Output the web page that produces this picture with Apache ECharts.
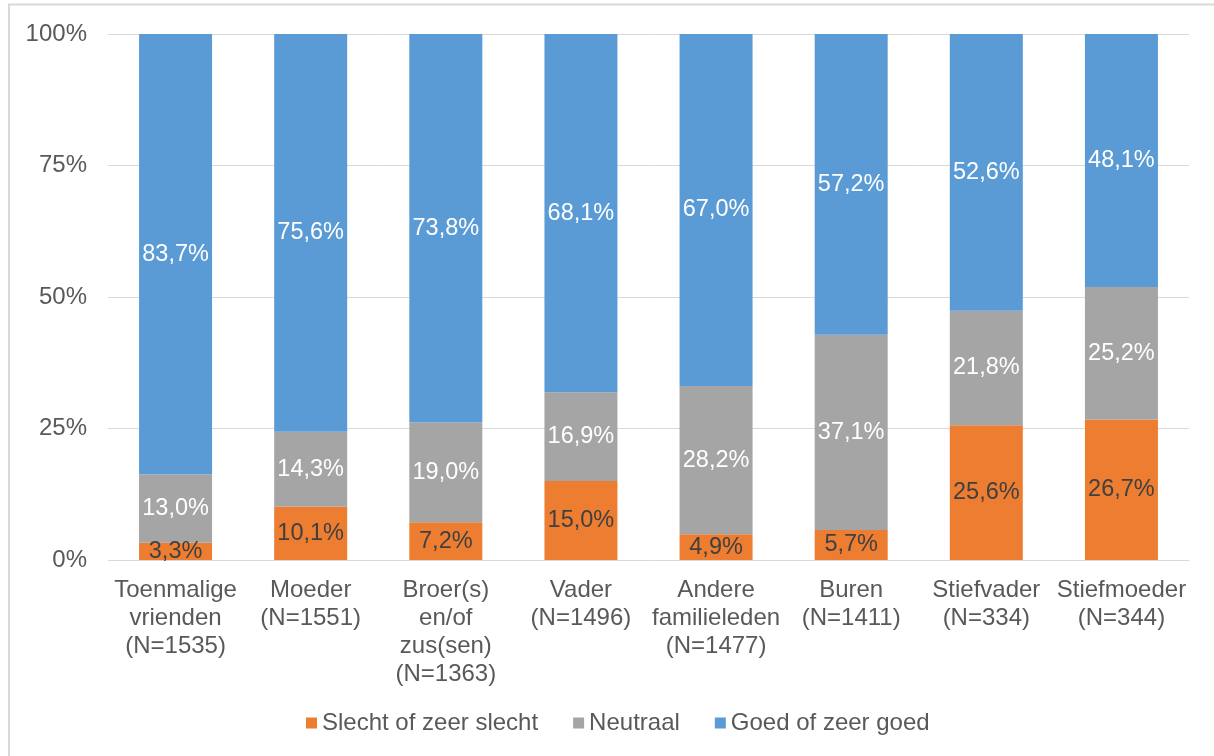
<!DOCTYPE html>
<html>
<head>
<meta charset="utf-8">
<script src="https://cdn.jsdelivr.net/npm/echarts@6/dist/echarts.min.js"></script>
<style>
html,body{margin:0;padding:0;background:#fff;}
#chart{width:1214px;height:756px;}
</style>
</head>
<body>
<div id="chart"></div>
<script>
const categories = [
  "Toenmalige\nvrienden\n(N=1535)",
  "Moeder\n(N=1551)",
  "Broer(s)\nen/of\nzus(sen)\n(N=1363)",
  "Vader\n(N=1496)",
  "Andere\nfamilieleden\n(N=1477)",
  "Buren\n(N=1411)",
  "Stiefvader\n(N=334)",
  "Stiefmoeder\n(N=344)"
];
const seriesNames = ["Slecht of zeer slecht", "Neutraal", "Goed of zeer goed"];
const slecht = [3.3, 10.1, 7.2, 15.0, 4.9, 5.7, 25.6, 26.7];
const neutraal = [13.0, 14.3, 19.0, 16.9, 28.2, 37.1, 21.8, 25.2];
const goed = [83.7, 75.6, 73.8, 68.1, 67.0, 57.2, 52.6, 48.1];
const yTicks = [0, 25, 50, 75, 100];

const FONT = "'Liberation Sans', Arial, sans-serif";
const FS = 24;
const fmt = v => v.toFixed(1).replace('.', ',') + '%';

function mk(name, data, color, labelColor) {
  return {
    name: name,
    type: 'bar',
    stack: 'total',
    data: data,
    barWidth: 73,
    itemStyle: { color: color },
    label: {
      show: true,
      position: 'inside',
      color: labelColor,
      fontSize: 23.5,
      fontFamily: FONT,
      formatter: p => fmt(p.value)
    },
    emphasis: { disabled: true }
  };
}

const chart = echarts.init(document.getElementById('chart'), null, { renderer: 'canvas' });
chart.setOption({
  animation: false,
  textStyle: { fontFamily: FONT },
  grid: { left: 108, right: 25, top: 34, bottom: 196, containLabel: false },
  legend: {
    bottom: 16,
    left: 301,
    itemWidth: 11,
    itemHeight: 11,
    itemGap: 35,
    icon: 'rect',
    textStyle: { fontSize: FS, color: '#595959', fontFamily: FONT, padding: [0, 0, 0, 0] },
    data: seriesNames
  },
  xAxis: {
    type: 'category',
    data: categories,
    axisLine: { lineStyle: { color: '#D9D9D9', width: 1 } },
    axisTick: { show: false },
    axisLabel: {
      interval: 0,
      margin: 17,
      fontSize: FS,
      lineHeight: 27.7,
      color: '#595959',
      fontFamily: FONT
    }
  },
  yAxis: {
    type: 'value',
    min: 0,
    max: 100,
    interval: 25,
    axisLine: { show: false },
    axisTick: { show: false },
    splitLine: { lineStyle: { color: '#D9D9D9', width: 1 } },
    axisLabel: {
      margin: 21,
      fontSize: FS,
      color: '#595959',
      fontFamily: FONT,
      formatter: v => yTicks.includes(v) ? v + '%' : ''
    }
  },
  series: [
    mk(seriesNames[0], slecht, '#ED7D31', '#404040'),
    mk(seriesNames[1], neutraal, '#A5A5A5', '#FFFFFF'),
    mk(seriesNames[2], goed, '#5B9BD5', '#FFFFFF')
  ],
  graphic: [
    { type: 'line', shape: { x1: 8, y1: 4.5, x2: 1214, y2: 4.5 }, style: { stroke: '#D9D9D9', lineWidth: 2 }, silent: true },
    { type: 'line', shape: { x1: 9, y1: 4, x2: 9, y2: 756 }, style: { stroke: '#D9D9D9', lineWidth: 2 }, silent: true }
  ]
});
</script>
</body>
</html>
